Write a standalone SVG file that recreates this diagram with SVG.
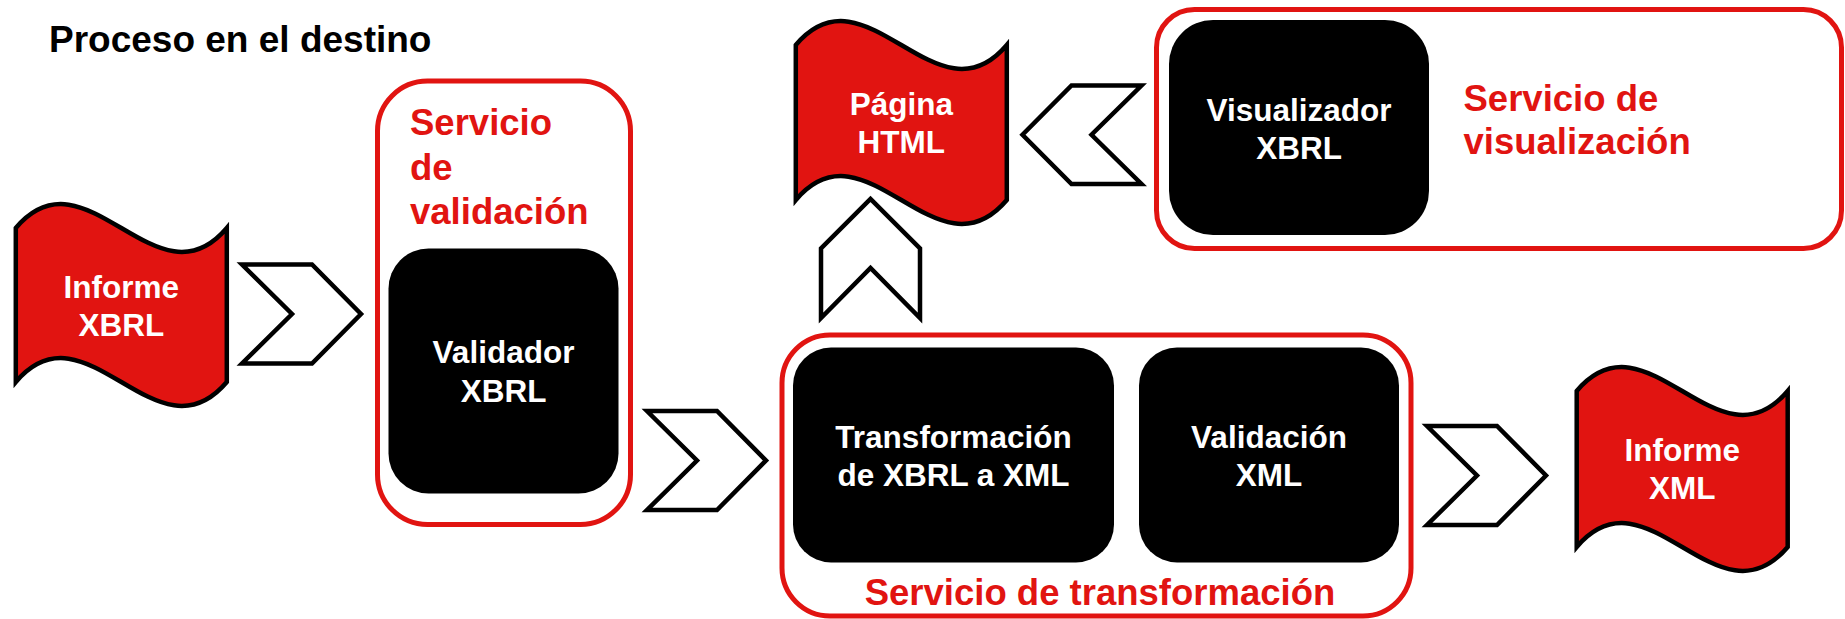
<svg xmlns="http://www.w3.org/2000/svg" width="1845" height="619" viewBox="0 0 1845 619">
<style>
text{font-family:"Liberation Sans",Arial,sans-serif;font-weight:bold}
.title{font-size:37px;fill:#000}
.red{font-size:36.5px;fill:#E11411}
.wt{font-size:31.5px;fill:#fff;text-anchor:middle}
.flag{fill:#E11411;stroke:#000;stroke-width:4.5;stroke-linejoin:miter}
.svc{fill:#fff;stroke:#E11411;stroke-width:5}
.blk{fill:#000}
.chev{fill:#fff;stroke:#000;stroke-width:4.5;stroke-linejoin:miter;stroke-miterlimit:10}
</style>
<rect width="1845" height="619" fill="#fff"/>
<text class="title" x="49" y="51.5">Proceso en el destino</text>

<g id="informe-xbrl">
<path class="flag" d="M15.8,228 C86.1,145 156.5,311 226.8,228 L226.8,382 C156.5,465 86.1,299 15.8,382 Z"/>
<text class="wt" x="121.3" y="298">Informe</text>
<text class="wt" x="121.3" y="336">XBRL</text>
</g>

<g id="servicio-validacion">
<rect class="svc" x="377.5" y="81" width="253" height="443.5" rx="50"/>
<text class="red" x="410" y="135">Servicio</text>
<text class="red" x="410" y="180">de</text>
<text class="red" x="410" y="224">validación</text>
</g>

<g id="validador-xbrl">
<rect class="blk" x="388.5" y="248.5" width="230" height="245" rx="40"/>
<text class="wt" x="503.5" y="363">Validador</text>
<text class="wt" x="503.5" y="401.5">XBRL</text>
</g>

<g id="servicio-transformacion">
<rect class="svc" x="782" y="335" width="629" height="281" rx="48"/>
<text class="red" x="1100" y="605" text-anchor="middle">Servicio de transformación</text>
</g>

<g id="transformacion">
<rect class="blk" x="793" y="347.5" width="321" height="215" rx="38"/>
<text class="wt" x="953.5" y="448">Transformación</text>
<text class="wt" x="953.5" y="486">de XBRL a XML</text>
</g>

<g id="validacion-xml">
<rect class="blk" x="1139" y="347.5" width="260" height="215" rx="38"/>
<text class="wt" x="1269" y="448">Validación</text>
<text class="wt" x="1269" y="486">XML</text>
</g>

<g id="informe-xml">
<path class="flag" d="M1576.7,391 C1647,308 1717.4,474 1787.7,391 L1787.7,547 C1717.4,630 1647,464 1576.7,547 Z"/>
<text class="wt" x="1682.2" y="461">Informe</text>
<text class="wt" x="1682.2" y="499">XML</text>
</g>

<g id="pagina-html">
<path class="flag" d="M795.8,45 C866.1,-38 936.5,128 1006.8,45 L1006.8,200 C936.5,283 866.1,117 795.8,200 Z"/>
<text class="wt" x="901.3" y="115">Página</text>
<text class="wt" x="901.3" y="153">HTML</text>
</g>

<g id="servicio-visualizacion">
<rect class="svc" x="1156.5" y="9.5" width="685" height="239" rx="38"/>
<text class="red" x="1463.5" y="111">Servicio de</text>
<text class="red" x="1463.5" y="154">visualización</text>
</g>

<g id="visualizador-xbrl">
<rect class="blk" x="1169" y="20" width="260" height="215" rx="44"/>
<text class="wt" x="1299" y="121">Visualizador</text>
<text class="wt" x="1299" y="159">XBRL</text>
</g>

<g id="connectors">
<polygon class="chev" points="242,264.5 312,264.5 361,314 312,363.5 242,363.5 292,314"/>
<polygon class="chev" points="647,411 717,411 766,460.5 717,510 647,510 697,460.5"/>
<polygon class="chev" points="1427,426 1497,426 1546,475.5 1497,525 1427,525 1477,475.5"/>
<polygon class="chev" points="1141.5,85.5 1071.5,85.5 1022.5,134.75 1071.5,184 1141.5,184 1091.5,134.75"/>
<polygon class="chev" points="821,318 821,248.5 870.5,199 920,248.5 920,318 870.5,268"/>
</g>
</svg>
